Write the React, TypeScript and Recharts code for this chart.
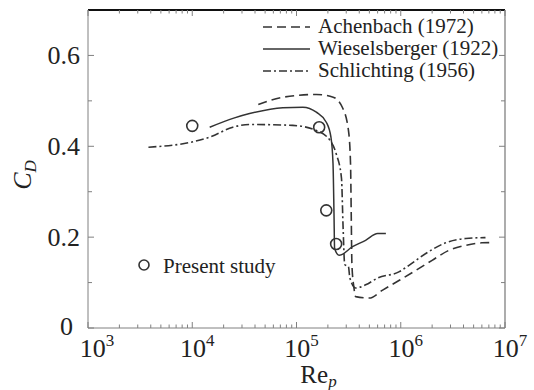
import React from 'react';
import { ComposedChart, Line, Scatter, XAxis, YAxis, Legend } from 'recharts';

document.body.style.margin = '0';

// Achenbach (1972) - dashed
const achenbachRe = [4.3e4, 7.4e4, 1.55e5, 2.25e5, 2.75e5, 3.15e5, 3.3e5, 3.35e5, 3.4e5, 3.55e5, 3.7e5, 5.0e5, 6.7e5, 9.7e5, 1.4e6, 2.0e6, 2.9e6, 4.2e6, 6.0e6, 7.4e6];
const achenbachCd = [0.492, 0.508, 0.514, 0.508, 0.486, 0.435, 0.36, 0.25, 0.14, 0.09, 0.069, 0.066, 0.0835, 0.105, 0.127, 0.149, 0.171, 0.182, 0.1875, 0.188];

// Wieselsberger (1922) - solid
const wieselRe = [1.47e4, 2.5e4, 3.55e4, 7.4e4, 1.15e5, 1.55e5, 1.93e5, 2.14e5, 2.24e5, 2.29e5, 2.32e5, 2.57e5, 3.45e5, 4.6e5, 6.0e5, 7.2e5];
const wieselCd = [0.442, 0.462, 0.472, 0.485, 0.486, 0.475, 0.453, 0.42, 0.362, 0.25, 0.175, 0.16, 0.179, 0.193, 0.208, 0.208];

// Schlichting (1956) - dash-dot
const schlichtRe = [3.8e3, 1.02e4, 1.47e4, 2.45e4, 3.55e4, 9.2e4, 1.55e5, 2.14e5, 2.4e5, 2.7e5, 2.8e5, 2.9e5, 3.15e5, 3.25e5, 3.7e5, 4.6e5, 6.0e5, 9.7e5, 1.2e6, 1.74e6, 2.7e6, 4.2e6, 6.5e6];
const schlichtCd = [0.398, 0.41, 0.42, 0.442, 0.448, 0.446, 0.435, 0.41, 0.384, 0.33, 0.22, 0.14, 0.135, 0.11, 0.088, 0.095, 0.11, 0.124, 0.138, 0.164, 0.1875, 0.197, 0.199];

// Present study - circles
const presentRe = [1.0e4, 1.65e5, 1.93e5, 2.4e5];
const presentCd = [0.445, 0.442, 0.259, 0.185];

const decades = [1e3, 1e4, 1e5, 1e6];
const xTicks = [...decades.flatMap(d => [1, 2, 3, 4, 5, 6, 7, 8, 9].map(k => k * d)), 1e7];
const yTicks = [0, 0.1, 0.2, 0.3, 0.4, 0.5, 0.6];
const yLabels: Record<string, string> = { '0': '0', '0.2': '0.2', '0.4': '0.4', '0.6': '0.6' };

const toRows = (re: number[], cd: number[]) => re.map((r, i) => ({ re: r, cd: cd[i] }));

const FONT = '"Liberation Serif", "Times New Roman", serif';
const INK = '#333';
const AXIS = '#808080';

const isMajorX = (v: number) => {
  const e = Math.round(Math.log10(v));
  return Math.abs(v - Math.pow(10, e)) < 1e-6 * v;
};

const BottomTick = (props: any) => {
  const { x, y, payload } = props;
  const v = payload.value;
  const major = isMajorX(v);
  const e = Math.round(Math.log10(v));
  return (
    <g>
      <line x1={x} x2={x} y1={y} y2={y - (major ? 6 : 3.5)} stroke={AXIS} strokeWidth={1} />
      {major && (
        <text x={x + (e === 3 ? 9 : 5)} y={y + 29} textAnchor="middle" fontSize={26} fontFamily={FONT} fill="#222">
          10<tspan dy={-11} fontSize={17}>{e}</tspan>
        </text>
      )}
    </g>
  );
};

const TopTick = (props: any) => {
  const { x, y, payload } = props;
  const major = isMajorX(payload.value);
  return <line x1={x} x2={x} y1={y} y2={y + (major ? 6 : 3.5)} stroke={AXIS} strokeWidth={1} />;
};

const LeftTick = (props: any) => {
  const { x, y, payload } = props;
  const key = String(Math.round(payload.value * 10) / 10);
  const label = yLabels[key];
  return (
    <g>
      <line x1={x} x2={x + (label ? 6 : 4)} y1={y} y2={y} stroke={AXIS} strokeWidth={1} />
      {label && (
        <text x={label === '0' ? x - 15 : x - 8} y={y + (label === '0' ? 7 : 9)} textAnchor="end" fontSize={26} fontFamily={FONT} fill="#222">
          {label}
        </text>
      )}
    </g>
  );
};

const RightTick = (props: any) => {
  const { x, y, payload } = props;
  const key = String(Math.round(payload.value * 10) / 10);
  return <line x1={x} x2={x - (yLabels[key] ? 6 : 4)} y1={y} y2={y} stroke={AXIS} strokeWidth={1} />;
};

const XLabel = (props: any) => {
  const { viewBox } = props;
  const cx = viewBox.x + viewBox.width / 2 + 22;
  return (
    <text x={cx} y={383} textAnchor="middle" fontSize={25} fontFamily={FONT} fill="#222">
      Re<tspan dy={4} fontSize={17} fontStyle="italic">p</tspan>
    </text>
  );
};

const YLabel = () => (
  <text x={0} y={0} transform="translate(31,175) rotate(-90)" textAnchor="middle" fontSize={26} fontFamily={FONT} fill="#222">
    <tspan fontStyle="italic">C</tspan>
    <tspan dy={5} fontSize={17} fontStyle="italic">D</tspan>
  </text>
);

const legendItems = [
  { name: 'Achenbach (1972)', dash: '9 5' },
  { name: 'Wieselsberger (1922)', dash: undefined },
  { name: 'Schlichting (1956)', dash: '8 3 2 3' },
];

const LegendBox = () => (
  <svg width={534} height={390} style={{ position: 'absolute', left: 0, top: 0, pointerEvents: 'none' }}>
    {legendItems.map((it, i) => (
      <g key={it.name}>
        <line x1={263} x2={310} y1={27 + i * 22} y2={27 + i * 22} stroke={INK} strokeWidth={1.6} strokeDasharray={it.dash} />
        <text x={318} y={33 + i * 22} fontSize={21} fontFamily={FONT} fill="#222">{it.name}</text>
      </g>
    ))}
    <circle cx={144} cy={265} r={5} fill="none" stroke={INK} strokeWidth={1.6} />
    <text x={163} y={273} fontSize={21} fontFamily={FONT} fill="#222">Present study</text>
  </svg>
);

export default function App() {
  return (
    <div style={{ width: 534, height: 390, background: '#fff', position: 'relative' }}>
      <ComposedChart width={534} height={390} margin={{ top: 9, right: 28, bottom: 0, left: 0 }}>
        <XAxis
          xAxisId="b"
          dataKey="re"
          type="number"
          scale="log"
          domain={[1e3, 1e7]}
          ticks={xTicks}
          interval={0}
          height={62}
          tickSize={0}
          tickMargin={0}
          tickLine={false}
          stroke={AXIS}
          tick={<BottomTick />}
          label={<XLabel />}
        />
        <XAxis
          xAxisId="t"
          orientation="top"
          dataKey="re"
          type="number"
          scale="log"
          domain={[1e3, 1e7]}
          ticks={xTicks}
          interval={0}
          height={1}
          tickSize={0}
          tickMargin={0}
          tickLine={false}
          axisLine={{ stroke: '#111', strokeWidth: 1.8 }}
          tick={<TopTick />}
        />
        <YAxis
          yAxisId="l"
          type="number"
          domain={[0, 0.7]}
          ticks={yTicks}
          interval={0}
          width={88}
          tickSize={0}
          tickMargin={0}
          tickLine={false}
          stroke={AXIS}
          tick={<LeftTick />}
          label={<YLabel />}
        />
        <YAxis
          yAxisId="r"
          orientation="right"
          type="number"
          domain={[0, 0.7]}
          ticks={yTicks}
          interval={0}
          width={1}
          tickSize={0}
          tickMargin={0}
          tickLine={false}
          axisLine={{ stroke: AXIS, strokeWidth: 1.3 }}
          tick={<RightTick />}
        />
        <Legend layout="horizontal" verticalAlign="middle" align="center" wrapperStyle={{ left: 0, top: 0, width: 534, height: 390 }} content={<LegendBox />} />
        <Line xAxisId="b" yAxisId="l" data={toRows(achenbachRe, achenbachCd)} dataKey="cd" type="monotone" stroke={INK} strokeWidth={1.6} strokeDasharray="9 5" dot={false} isAnimationActive={false} />
        <Line xAxisId="b" yAxisId="l" data={toRows(wieselRe, wieselCd)} dataKey="cd" type="monotone" stroke={INK} strokeWidth={1.5} dot={false} isAnimationActive={false} />
        {/* top axis mirrors the bottom one; binding a series to it makes it draw its ticks */}
        <Line xAxisId="t" yAxisId="l" data={toRows(schlichtRe, schlichtCd)} dataKey="cd" type="monotone" stroke={INK} strokeWidth={1.6} strokeDasharray="8 3 2 3" dot={false} isAnimationActive={false} />
        <Scatter
          xAxisId="b"
          yAxisId="r"
          data={toRows(presentRe, presentCd)}
          dataKey="cd"
          isAnimationActive={false}
          shape={(p: any) => <circle cx={p.cx} cy={p.cy} r={5.5} fill="none" stroke={INK} strokeWidth={1.6} />}
        />
      </ComposedChart>
    </div>
  );
}
